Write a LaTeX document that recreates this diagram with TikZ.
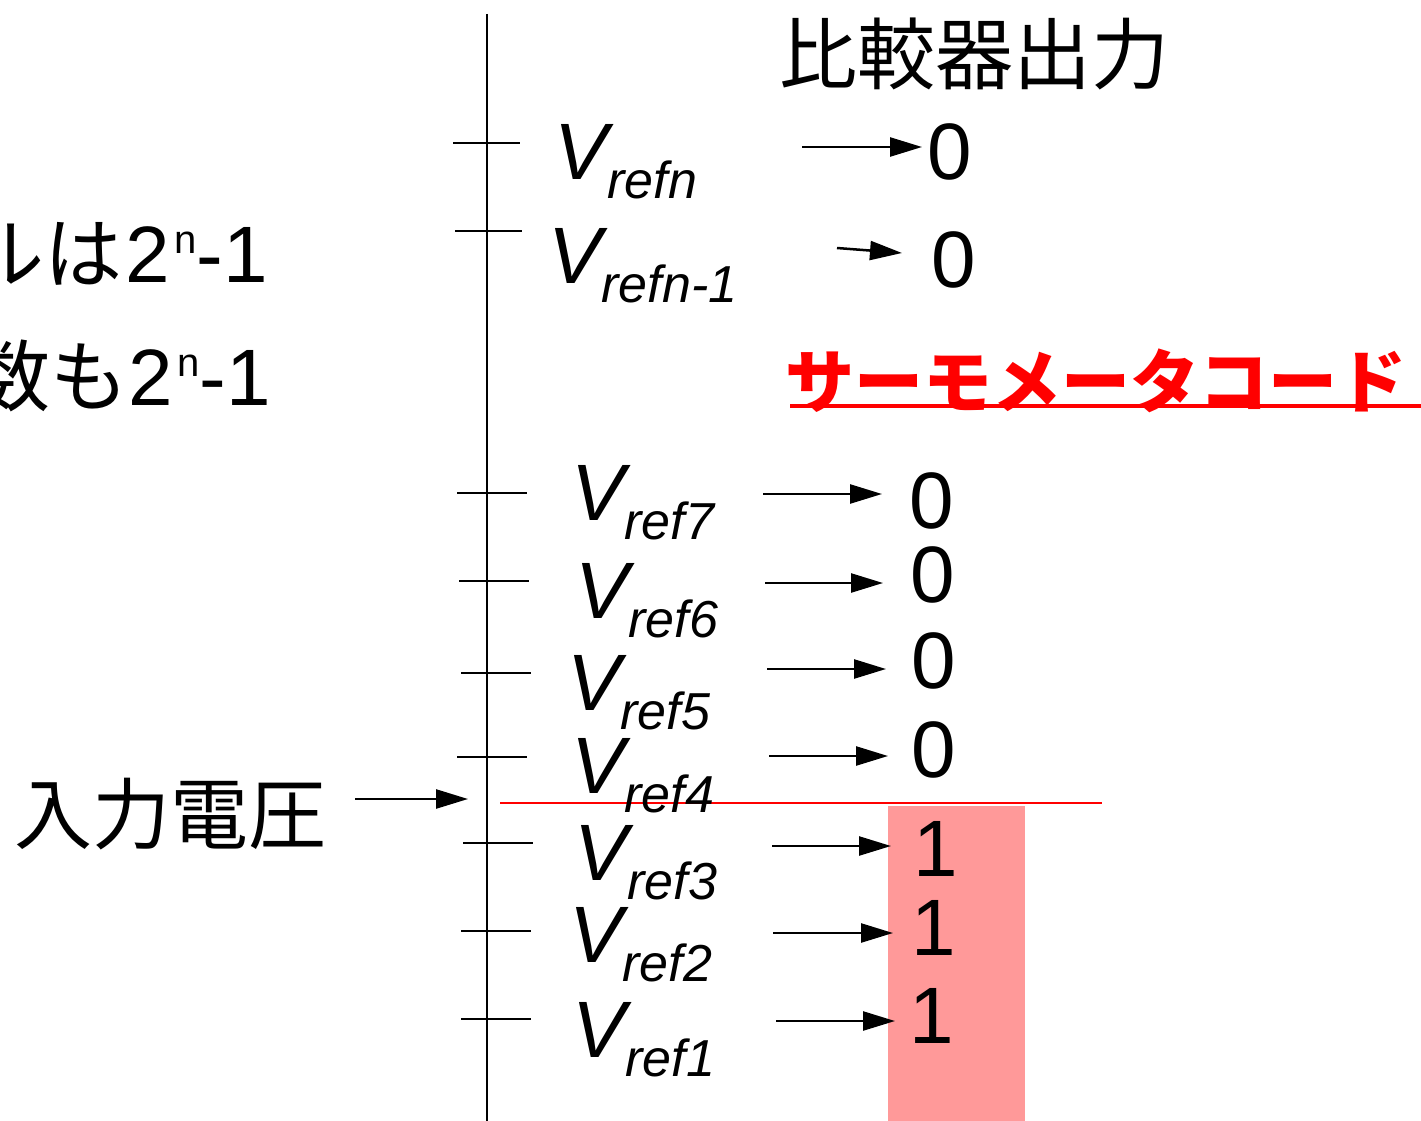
\documentclass[tikz,border=0pt]{standalone}
\usepackage{fontspec}
\setmainfont{Liberation Sans}
\newfontfamily\jp{Noto Sans CJK JP}
\usetikzlibrary{arrows.meta}
\definecolor{pinkfill}{RGB}{255,153,153}
\newcommand{\vlab}[1]{\itshape V\raisebox{-19pt}{\fontsize{52}{52}\selectfont #1}}
\newcommand{\supn}{\kern5pt\raisebox{29pt}{\fontsize{40}{40}\selectfont n}}
\begin{document}
\begin{tikzpicture}[x=1pt,y=-1pt,
  axisline/.style={line width=2.5pt},
  tickline/.style={line width=2pt},
  arr/.style={line width=2.5pt,-{Triangle[length=32pt,width=19pt]}},
  vl/.style={anchor=base west,inner sep=0pt,font=\fontsize{80}{80}\selectfont},
  outd/.style={inner sep=0pt,font=\fontsize{80}{80}\selectfont},
  jptext/.style={inner sep=0pt,font=\jp\fontsize{78}{78}\selectfont},
  lefttext/.style={anchor=base west,inner sep=0pt,font=\fontsize{80}{80}\selectfont}]
\useasboundingbox (0,0) rectangle (1421,1121);
\clip (0,0) rectangle (1421,1121);

% pink region and red level line
\fill[pinkfill] (888,806) rectangle (1025,1121);
\coordinate (lvA) at (500,803);
\coordinate (lvB) at (1102,803);
\draw[red,line width=2pt] (lvA) -- (lvB);

% axis
\coordinate (axT) at (487,14);
\coordinate (axB) at (487,1121);
\draw[axisline] (axT) -- (axB);

% ticks
\draw[tickline] (453,143) -- (520,143);
\draw[tickline] (455,231) -- (522,231);
\draw[tickline] (457,493) -- (527,493);
\draw[tickline] (459,581) -- (529,581);
\draw[tickline] (461,673) -- (531,673);
\draw[tickline] (457,757) -- (527,757);
\draw[tickline] (463,843) -- (533,843);
\draw[tickline] (461,931) -- (531,931);
\draw[tickline] (461,1019) -- (531,1019);

% V labels
\node[vl] (Vn)  at (554,179)  {\vlab{refn}};
\node[vl] (Vn1) at (548,283)  {\vlab{refn-1}};
\node[vl] (V7)  at (571,520)  {\vlab{ref7}};
\node[vl] (V6)  at (575,618)  {\vlab{ref6}};
\node[vl] (V5)  at (567,710)  {\vlab{ref5}};
\node[vl] (V4)  at (571,793)  {\vlab{ref4}};
\node[vl] (V3)  at (574,880)  {\vlab{ref3}};
\node[vl] (V2)  at (569,962)  {\vlab{ref2}};
\node[vl] (V1)  at (572,1057) {\vlab{ref1}};

% outputs
\node[outd] (on)  at (950,151.5)  {0};
\node[outd] (on1) at (953.5,259.5) {0};
\node[outd] (o7)  at (931.5,501)  {0};
\node[outd] (o6)  at (933,574.5)  {0};
\node[outd] (o5)  at (933.5,661)  {0};
\node[outd] (o4)  at (934,750)    {0};
\node[outd] (o3)  at (936,848.5)  {1};
\node[outd] (o2)  at (933.5,927.5) {1};
\node[outd] (o1)  at (931.5,1015.5) {1};

% arrows
\coordinate (sn) at (802,147);  \coordinate (en) at (922,147);
\coordinate (sn1) at (837,248); \coordinate (en1) at (902,253);
\coordinate (s7) at (763,494);  \coordinate (e7) at (882,494);
\coordinate (s6) at (765,583);  \coordinate (e6) at (883,583);
\coordinate (s5) at (767,669);  \coordinate (e5) at (886,669);
\coordinate (s4) at (769,756);  \coordinate (e4) at (888,756);
\coordinate (s3) at (772,846);  \coordinate (e3) at (891,846);
\coordinate (s2) at (773,933);  \coordinate (e2) at (893,933);
\coordinate (s1) at (776,1021); \coordinate (e1) at (895,1021);
\draw[arr] (sn) -- (en);
\draw[arr] (sn1) -- (en1);
\draw[arr] (s7) -- (e7);
\draw[arr] (s6) -- (e6);
\draw[arr] (s5) -- (e5);
\draw[arr] (s4) -- (e4);
\draw[arr] (s3) -- (e3);
\draw[arr] (s2) -- (e2);
\draw[arr] (s1) -- (e1);

% input voltage
\node[jptext] (vin) at (170,814) {入力電圧};
\coordinate (sin) at (355,799);
\coordinate (ein) at (468,799);
\draw[arr] (sin) -- (ein);

% title
\node[jptext] (title) at (974,54) {比較器出力};

% thermometer code
\node[inner sep=0pt,text=red,font=\jp\bfseries\fontsize{69}{69}\selectfont] (thermo) at (1096,381) {サーモメータコード};
\coordinate (ulA) at (790,406);
\coordinate (ulB) at (1421,406);
\draw[red,line width=4pt] (ulA) -- (ulB);

% left texts (partly cut at the left edge, as in the reference)
\node[lefttext] (lt1) at (-34,282) {{\jp\fontsize{78}{78}\selectfont ルは}\kern3pt 2\supn-1};
\node[lefttext] (lt2) at (-28,405) {{\jp\fontsize{78}{78}\selectfont 数も}\kern0pt 2\supn-1};
\end{tikzpicture}
\end{document}
